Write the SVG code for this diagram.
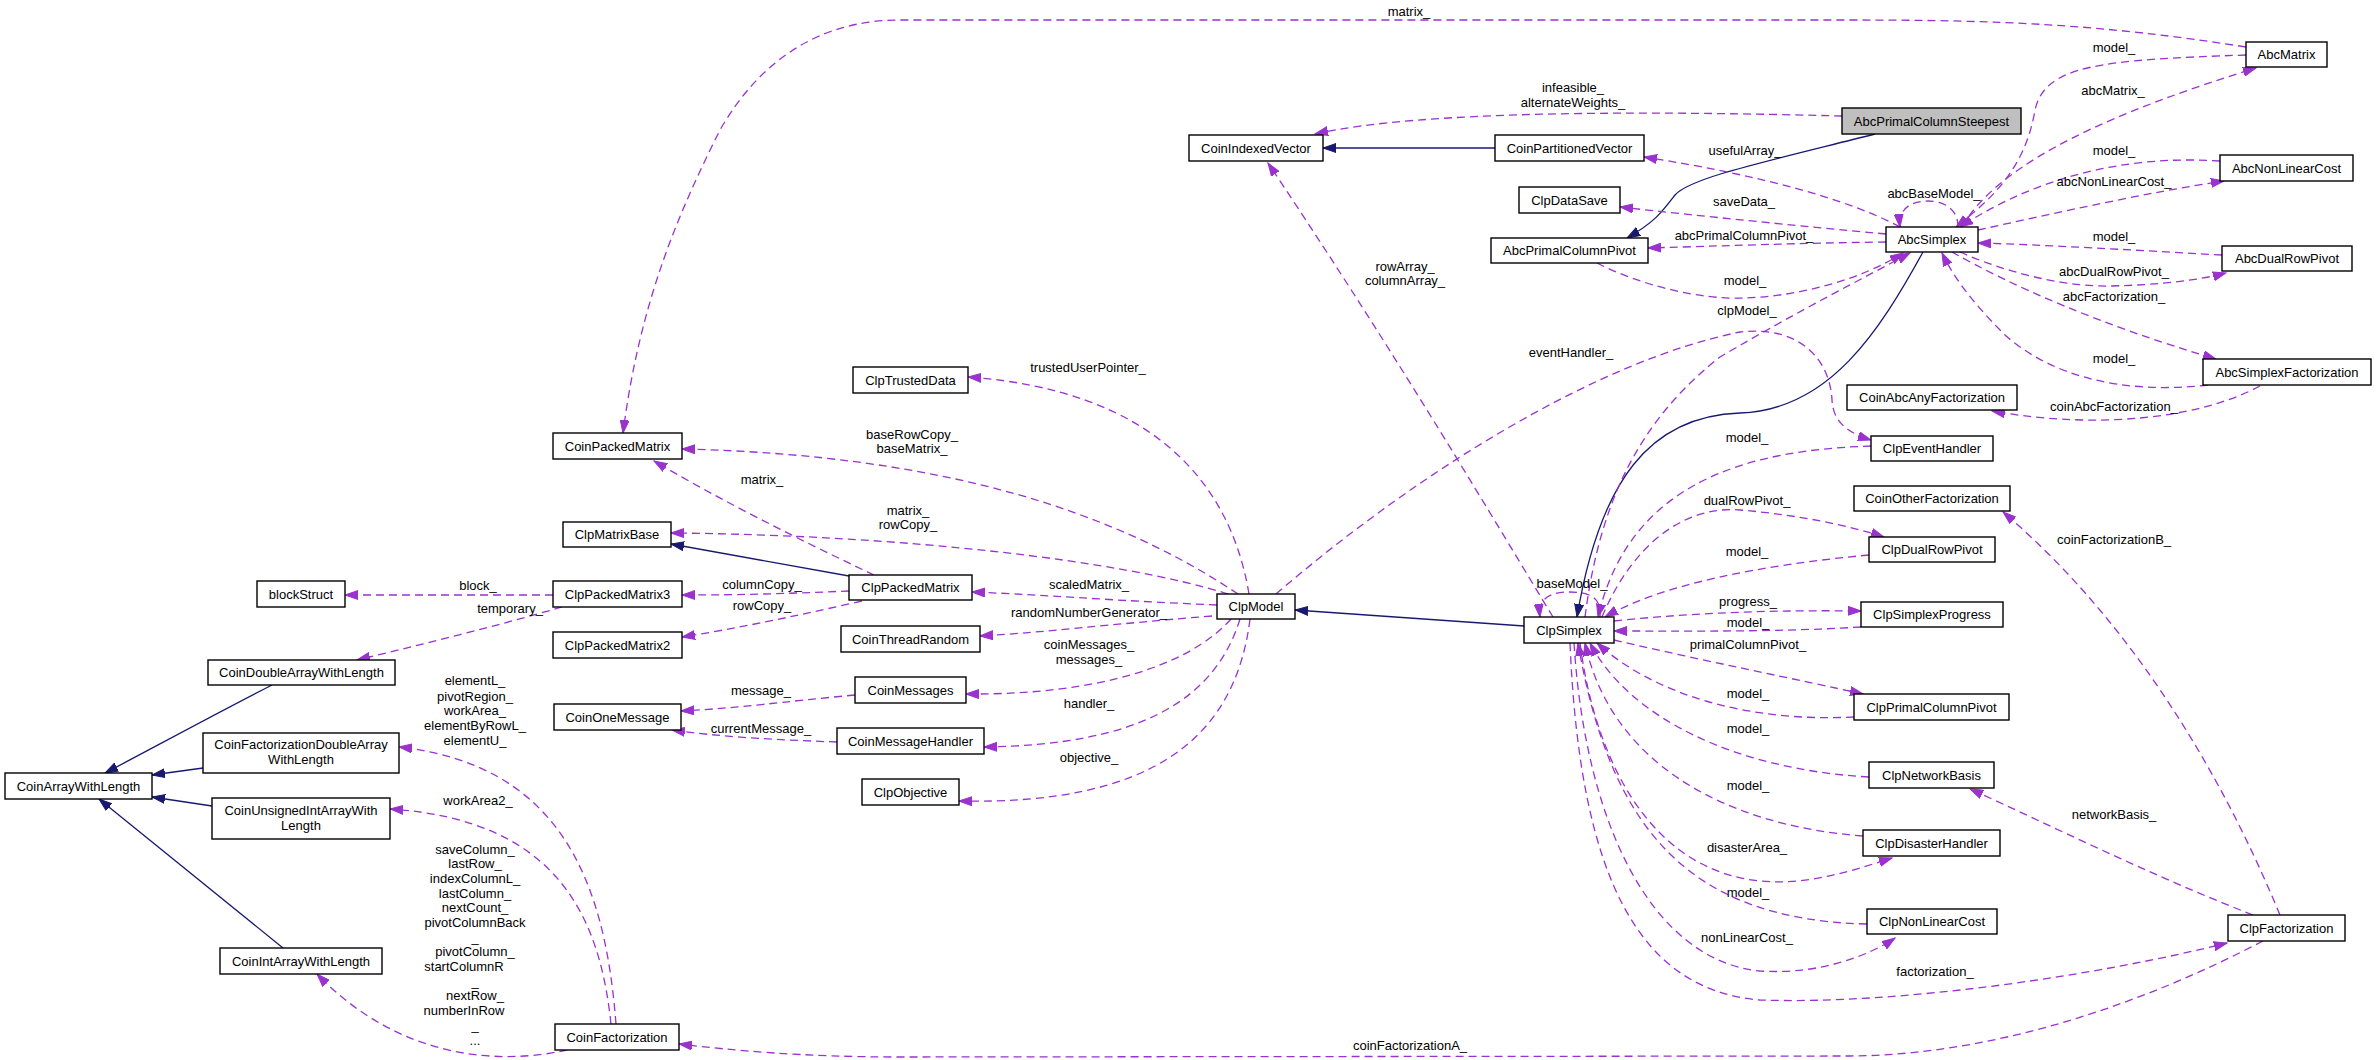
<svg xmlns="http://www.w3.org/2000/svg" width="2376" height="1060" viewBox="0 0 2376 1060">
<style>
.n rect{fill:#fff;stroke:#000;stroke-width:1.4}
.n.g rect{fill:#bfbfbf}
text{font-family:"Liberation Sans",Arial,Helvetica,sans-serif;font-size:13px;fill:#000;text-anchor:middle}
.e{fill:none;stroke:#9a32cd;stroke-width:1.3;stroke-dasharray:8,5;marker-end:url(#ap)}
.i{fill:none;stroke:#191970;stroke-width:1.3;marker-end:url(#an)}
</style>
<defs>
<marker id="ap" markerUnits="userSpaceOnUse" markerWidth="14" markerHeight="10" refX="13" refY="5" orient="auto" viewBox="0 0 14 10"><path d="M0,0.5 L13,5 L0,9.5 z" fill="#9a32cd" stroke="#9a32cd" stroke-width="1"/></marker>
<marker id="an" markerUnits="userSpaceOnUse" markerWidth="14" markerHeight="10" refX="13" refY="5" orient="auto" viewBox="0 0 14 10"><path d="M0,0.5 L13,5 L0,9.5 z" fill="#191970" stroke="#191970" stroke-width="1"/></marker>
</defs>
<rect width="2376" height="1060" fill="#fff"/>
<g id="edges">
<path class="i" d="M272,685 C200,722 140,755 105,773"/>
<path class="i" d="M203,768 L152,775"/>
<path class="i" d="M212,806 L152,797"/>
<path class="i" d="M283,948 L99,799"/>
<path class="i" d="M849,576 L671,544"/>
<path class="i" d="M1495,148 L1323,148"/>
<path class="i" d="M1875,134 C1760,163 1690,178 1675,195 C1662,212 1655,222 1627,238"/>
<path class="i" d="M1923,252 C1880,330 1830,410 1740,413 C1650,416 1600,480 1577,617"/>
<path class="i" d="M1524,626 L1295,610"/>
<path class="e" d="M2246,47 C2100,24 2000,20 1850,20 L900,20 C820,20 760,60 720,130 C680,210 640,300 623,433"/>
<path class="e" d="M1842,116 C1650,111 1420,110 1315,134"/>
<path class="e" d="M1900,227 C1850,200 1760,175 1644,157"/>
<path class="e" d="M1886,234 C1800,226 1700,216 1620,207"/>
<path class="e" d="M1886,242 C1800,243 1720,246 1648,248"/>
<path class="e" d="M1597,263 C1640,285 1700,300 1745,298 C1800,296 1860,280 1903,253"/>
<path class="e" d="M1585,617 C1600,500 1640,420 1720,357 C1800,310 1860,280 1910,253"/>
<path class="e" d="M1276,594 C1420,470 1600,360 1740,332 C1800,325 1830,360 1832,400 C1833,420 1845,432 1871,440"/>
<path class="e" d="M1871,446 C1750,450 1630,480 1598,617"/>
<path class="e" d="M1602,617 C1630,550 1680,505 1740,510 C1800,515 1850,526 1884,537"/>
<path class="e" d="M1869,555 C1760,565 1660,585 1605,617"/>
<path class="e" d="M1614,621 C1700,612 1780,610 1861,611"/>
<path class="e" d="M1861,627 C1780,632 1700,631 1614,631"/>
<path class="e" d="M1614,640 C1700,660 1800,680 1863,694"/>
<path class="e" d="M1854,717 C1760,722 1660,700 1597,643"/>
<path class="e" d="M1869,777 C1740,770 1630,720 1590,643"/>
<path class="e" d="M1863,836 C1720,825 1610,760 1585,643"/>
<path class="e" d="M1580,643 C1595,760 1650,870 1760,881 C1810,886 1860,868 1892,858"/>
<path class="e" d="M1867,924 C1690,920 1610,830 1578,643"/>
<path class="e" d="M1574,643 C1585,820 1650,960 1760,971 C1820,975 1870,955 1895,938"/>
<path class="e" d="M1570,643 C1580,880 1640,990 1760,1000 C1900,1005 2100,975 2227,943"/>
<path class="e" d="M2263,941 C2150,1000 2000,1055 1850,1056 L900,1057 C800,1057 730,1050 679,1044"/>
<path class="e" d="M2280,915 C2220,770 2130,620 2003,512"/>
<path class="e" d="M2253,915 C2150,875 2050,825 1970,789"/>
<path class="e" d="M2246,55 C2100,60 2045,65 2035,110 C2025,170 1990,200 1956,227"/>
<path class="e" d="M1962,227 C2000,160 2120,110 2256,68"/>
<path class="e" d="M2220,161 C2130,155 2040,175 1960,227"/>
<path class="e" d="M1978,230 C2060,212 2150,192 2224,181"/>
<path class="e" d="M1958,227 C1958,206 1940,201 1928,201 C1912,201 1898,208 1900,227"/>
<path class="e" d="M2222,255 C2130,250 2050,245 1978,243"/>
<path class="e" d="M1960,252 C2000,270 2060,287 2110,286 C2160,285 2200,280 2226,273"/>
<path class="e" d="M1952,252 C2010,285 2100,325 2216,359"/>
<path class="e" d="M2208,385 C2120,395 2050,375 2005,335 C1975,305 1955,280 1942,253"/>
<path class="e" d="M2260,386 C2200,418 2100,430 1992,411"/>
<path class="e" d="M1553,617 C1500,530 1400,360 1268,163"/>
<path class="e" d="M1600,617 C1602,598 1590,592 1570,592 C1550,592 1538,598 1540,617"/>
<path class="e" d="M1249,594 C1230,480 1150,390 968,377"/>
<path class="e" d="M1238,594 C1120,515 950,455 682,449"/>
<path class="e" d="M1228,594 C1120,560 900,535 671,533"/>
<path class="e" d="M874,575 C800,540 720,500 654,461"/>
<path class="e" d="M849,591 C800,593 750,595 682,595"/>
<path class="e" d="M862,601 C800,615 740,628 682,637"/>
<path class="e" d="M1217,605 C1100,600 1050,595 972,592"/>
<path class="e" d="M1212,616 C1100,625 1050,632 980,636"/>
<path class="e" d="M1231,619 C1190,665 1100,695 966,694"/>
<path class="e" d="M1240,619 C1215,700 1140,745 984,747"/>
<path class="e" d="M1250,619 C1235,740 1150,805 959,801"/>
<path class="e" d="M855,695 C780,702 740,708 681,711"/>
<path class="e" d="M837,742 C780,740 720,737 672,730"/>
<path class="e" d="M553,595 L345,595"/>
<path class="e" d="M562,607 C500,625 420,645 357,660"/>
<path class="e" d="M616,1024 C605,880 560,765 399,747"/>
<path class="e" d="M611,1024 C600,920 560,820 390,809"/>
<path class="e" d="M567,1050 C500,1065 400,1060 317,974"/>
</g>
<g id="edge-labels">
<text x="1409" y="16">matrix_</text>
<text x="1573" y="92">infeasible_</text>
<text x="1573" y="107">alternateWeights_</text>
<text x="2114" y="52">model_</text>
<text x="2113" y="95">abcMatrix_</text>
<text x="1745" y="155">usefulArray_</text>
<text x="2114" y="155">model_</text>
<text x="2114" y="186">abcNonLinearCost_</text>
<text x="1934" y="198">abcBaseModel_</text>
<text x="1744" y="206">saveData_</text>
<text x="1744" y="240">abcPrimalColumnPivot_</text>
<text x="2114" y="241">model_</text>
<text x="1405" y="271">rowArray_</text>
<text x="1405" y="285">columnArray_</text>
<text x="2114" y="276">abcDualRowPivot_</text>
<text x="1745" y="285">model_</text>
<text x="2114" y="301">abcFactorization_</text>
<text x="1747" y="315">clpModel_</text>
<text x="1571" y="357">eventHandler_</text>
<text x="2114" y="363">model_</text>
<text x="1088" y="372">trustedUserPointer_</text>
<text x="2114" y="411">coinAbcFactorization_</text>
<text x="912" y="439">baseRowCopy_</text>
<text x="912" y="453">baseMatrix_</text>
<text x="1747" y="442">model_</text>
<text x="762" y="484">matrix_</text>
<text x="1747" y="505">dualRowPivot_</text>
<text x="908" y="515">matrix_</text>
<text x="908" y="529">rowCopy_</text>
<text x="2114" y="544">coinFactorizationB_</text>
<text x="1747" y="556">model_</text>
<text x="1572" y="588">baseModel_</text>
<text x="762" y="589">columnCopy_</text>
<text x="1089" y="589">scaledMatrix_</text>
<text x="478" y="590">block_</text>
<text x="1748" y="606">progress_</text>
<text x="762" y="610">rowCopy_</text>
<text x="510" y="613">temporary_</text>
<text x="1089" y="617">randomNumberGenerator_</text>
<text x="1748" y="627">model_</text>
<text x="1089" y="649">coinMessages_</text>
<text x="1089" y="664">messages_</text>
<text x="1748" y="649">primalColumnPivot_</text>
<text x="475" y="685">elementL_</text>
<text x="475" y="701">pivotRegion_</text>
<text x="475" y="715">workArea_</text>
<text x="475" y="730">elementByRowL_</text>
<text x="475" y="745">elementU_</text>
<text x="761" y="695">message_</text>
<text x="1748" y="698">model_</text>
<text x="1089" y="708">handler_</text>
<text x="1748" y="733">model_</text>
<text x="761" y="733">currentMessage_</text>
<text x="1089" y="762">objective_</text>
<text x="1748" y="790">model_</text>
<text x="478" y="805">workArea2_</text>
<text x="2114" y="819">networkBasis_</text>
<text x="1747" y="852">disasterArea_</text>
<text x="1748" y="897">model_</text>
<text x="1747" y="942">nonLinearCost_</text>
<text x="1935" y="976">factorization_</text>
<text x="1410" y="1050">coinFactorizationA_</text>
<text x="475" y="854">saveColumn_</text>
<text x="475" y="868">lastRow_</text>
<text x="475" y="883">indexColumnL_</text>
<text x="475" y="898">lastColumn_</text>
<text x="475" y="912">nextCount_</text>
<text x="475" y="927">pivotColumnBack</text>
<text x="475" y="942">_</text>
<text x="475" y="956">pivotColumn_</text>
<text x="464" y="971">startColumnR</text>
<text x="475" y="986">_</text>
<text x="475" y="1000">nextRow_</text>
<text x="464" y="1015">numberInRow</text>
<text x="475" y="1030">_</text>
<text x="475" y="1045">...</text>
</g>
<g id="AbcPrimalColumnSteepest" class="n g"><rect x="1842" y="108" width="179" height="26"/><text x="1931.5" y="125.5">AbcPrimalColumnSteepest</text></g>
<g id="AbcMatrix" class="n"><rect x="2246" y="42" width="81" height="25"/><text x="2286.5" y="59">AbcMatrix</text></g>
<g id="AbcNonLinearCost" class="n"><rect x="2220" y="155" width="133" height="26"/><text x="2286.5" y="172.5">AbcNonLinearCost</text></g>
<g id="AbcDualRowPivot" class="n"><rect x="2222" y="246" width="130" height="25"/><text x="2287" y="263">AbcDualRowPivot</text></g>
<g id="AbcSimplexFactorization" class="n"><rect x="2203" y="359" width="168" height="26"/><text x="2287" y="376.5">AbcSimplexFactorization</text></g>
<g id="AbcSimplex" class="n"><rect x="1886" y="227" width="92" height="25"/><text x="1932" y="244">AbcSimplex</text></g>
<g id="CoinAbcAnyFactorization" class="n"><rect x="1847" y="385" width="170" height="25"/><text x="1932" y="402">CoinAbcAnyFactorization</text></g>
<g id="ClpEventHandler" class="n"><rect x="1871" y="436" width="122" height="25"/><text x="1932" y="453">ClpEventHandler</text></g>
<g id="CoinOtherFactorization" class="n"><rect x="1854" y="486" width="156" height="25"/><text x="1932" y="503">CoinOtherFactorization</text></g>
<g id="ClpDualRowPivot" class="n"><rect x="1869" y="537" width="126" height="25"/><text x="1932" y="554">ClpDualRowPivot</text></g>
<g id="ClpSimplexProgress" class="n"><rect x="1861" y="602" width="142" height="25"/><text x="1932" y="619">ClpSimplexProgress</text></g>
<g id="ClpPrimalColumnPivot" class="n"><rect x="1854" y="694" width="155" height="26"/><text x="1931.5" y="711.5">ClpPrimalColumnPivot</text></g>
<g id="ClpNetworkBasis" class="n"><rect x="1869" y="762" width="125" height="26"/><text x="1931.5" y="779.5">ClpNetworkBasis</text></g>
<g id="ClpDisasterHandler" class="n"><rect x="1863" y="830" width="137" height="26"/><text x="1931.5" y="847.5">ClpDisasterHandler</text></g>
<g id="ClpNonLinearCost" class="n"><rect x="1867" y="909" width="130" height="25"/><text x="1932" y="926">ClpNonLinearCost</text></g>
<g id="ClpFactorization" class="n"><rect x="2228" y="915" width="117" height="26"/><text x="2286.5" y="932.5">ClpFactorization</text></g>
<g id="ClpSimplex" class="n"><rect x="1524" y="617" width="90" height="26"/><text x="1569" y="634.5">ClpSimplex</text></g>
<g id="CoinIndexedVector" class="n"><rect x="1189" y="135" width="134" height="26"/><text x="1256" y="152.5">CoinIndexedVector</text></g>
<g id="CoinPartitionedVector" class="n"><rect x="1495" y="135" width="149" height="26"/><text x="1569.5" y="152.5">CoinPartitionedVector</text></g>
<g id="ClpDataSave" class="n"><rect x="1519" y="187" width="101" height="26"/><text x="1569.5" y="204.5">ClpDataSave</text></g>
<g id="AbcPrimalColumnPivot" class="n"><rect x="1491" y="238" width="157" height="25"/><text x="1569.5" y="255">AbcPrimalColumnPivot</text></g>
<g id="ClpModel" class="n"><rect x="1217" y="594" width="78" height="25"/><text x="1256" y="611">ClpModel</text></g>
<g id="ClpTrustedData" class="n"><rect x="853" y="367" width="115" height="26"/><text x="910.5" y="384.5">ClpTrustedData</text></g>
<g id="CoinPackedMatrix" class="n"><rect x="553" y="433" width="129" height="26"/><text x="617.5" y="450.5">CoinPackedMatrix</text></g>
<g id="ClpMatrixBase" class="n"><rect x="563" y="522" width="108" height="25"/><text x="617" y="539">ClpMatrixBase</text></g>
<g id="ClpPackedMatrix3" class="n"><rect x="553" y="581" width="129" height="26"/><text x="617.5" y="598.5">ClpPackedMatrix3</text></g>
<g id="ClpPackedMatrix2" class="n"><rect x="553" y="632" width="129" height="26"/><text x="617.5" y="649.5">ClpPackedMatrix2</text></g>
<g id="ClpPackedMatrix" class="n"><rect x="849" y="575" width="123" height="25"/><text x="910.5" y="592">ClpPackedMatrix</text></g>
<g id="CoinThreadRandom" class="n"><rect x="841" y="626" width="139" height="26"/><text x="910.5" y="643.5">CoinThreadRandom</text></g>
<g id="CoinMessages" class="n"><rect x="855" y="677" width="111" height="26"/><text x="910.5" y="694.5">CoinMessages</text></g>
<g id="CoinMessageHandler" class="n"><rect x="837" y="728" width="147" height="26"/><text x="910.5" y="745.5">CoinMessageHandler</text></g>
<g id="ClpObjective" class="n"><rect x="862" y="779" width="97" height="26"/><text x="910.5" y="796.5">ClpObjective</text></g>
<g id="CoinOneMessage" class="n"><rect x="554" y="704" width="127" height="26"/><text x="617.5" y="721.5">CoinOneMessage</text></g>
<g id="blockStruct" class="n"><rect x="257" y="581" width="88" height="26"/><text x="301" y="598.5">blockStruct</text></g>
<g id="CoinDoubleArrayWithLength" class="n"><rect x="208" y="660" width="187" height="25"/><text x="301.5" y="677">CoinDoubleArrayWithLength</text></g>
<g id="CoinFactorizationDoubleArrayWithLength" class="n"><rect x="203" y="733" width="196" height="40"/><text x="301" y="749">CoinFactorizationDoubleArray</text><text x="301" y="763.5">WithLength</text></g>
<g id="CoinUnsignedIntArrayWithLength" class="n"><rect x="212" y="798" width="178" height="41"/><text x="301" y="814.5">CoinUnsignedIntArrayWith</text><text x="301" y="829.5">Length</text></g>
<g id="CoinArrayWithLength" class="n"><rect x="5" y="773" width="147" height="26"/><text x="78.5" y="790.5">CoinArrayWithLength</text></g>
<g id="CoinIntArrayWithLength" class="n"><rect x="220" y="948" width="162" height="26"/><text x="301" y="965.5">CoinIntArrayWithLength</text></g>
<g id="CoinFactorization" class="n"><rect x="555" y="1024" width="124" height="26"/><text x="617" y="1041.5">CoinFactorization</text></g>
</svg>
